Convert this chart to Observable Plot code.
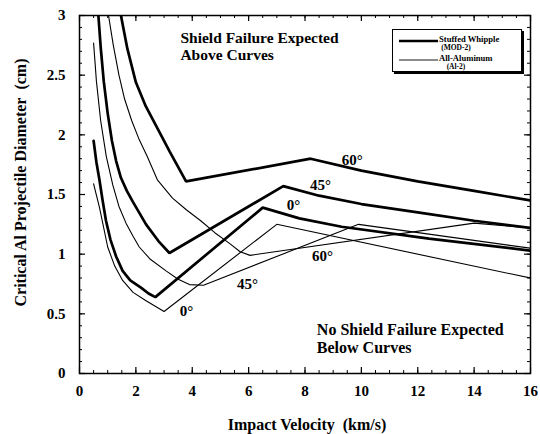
<!DOCTYPE html>
<html><head><meta charset="utf-8">
<script src="https://cdn.jsdelivr.net/npm/d3@7"></script>
<script src="https://cdn.jsdelivr.net/npm/@observablehq/plot@0.6"></script>
<style>
body{margin:0;background:#fff;}
#wrap{position:relative;width:540px;height:434px;font-family:"Liberation Serif","Times New Roman",serif;font-weight:bold;}
#legend{position:absolute;left:392px;top:29px;width:128px;height:41px;border:1.3px solid #000;box-shadow:2px 2px 0 #000;background:#fff;}
</style></head><body><div id="wrap"></div>
<script>
// Stuffed Whipple (MOD-2) — thick curves, [velocity km/s, diameter cm]
const mod2_0deg = [[0.5,1.95],[0.6,1.77],[0.71,1.62],[0.82,1.45],[0.94,1.28],[1.1,1.12],[1.3,0.98],[1.53,0.86],[1.8,0.78],[2.18,0.72],[2.45,0.67],[2.69,0.64],[6.5,1.39],[7.8,1.30],[9.3,1.23],[12.4,1.13],[16,1.03]];
const mod2_45deg = [[0.67,3.0],[0.75,2.74],[0.86,2.45],[1.0,2.18],[1.15,1.95],[1.3,1.78],[1.47,1.64],[1.68,1.53],[1.89,1.44],[2.36,1.25],[2.8,1.11],[3.19,1.01],[7.23,1.57],[8.5,1.49],[10,1.42],[12,1.35],[14,1.28],[16,1.22]];
const mod2_60deg = [[1.47,3.0],[1.7,2.72],[2.0,2.44],[2.35,2.24],[2.71,2.08],[3.2,1.86],[3.78,1.61],[8.2,1.80],[10,1.70],[12,1.61],[14,1.53],[16,1.45]];
// All-Aluminum (Al-2) — thin curves
const al2_0deg = [[0.5,1.59],[0.71,1.39],[1.0,1.06],[1.25,0.90],[1.53,0.78],[1.9,0.68],[2.36,0.61],[3.0,0.52],[7.0,1.25],[16,0.80]];
const al2_45deg = [[0.5,2.77],[0.6,2.45],[0.75,2.12],[0.95,1.82],[1.18,1.58],[1.4,1.40],[1.65,1.26],[1.9,1.15],[2.12,1.06],[2.5,0.96],[3.07,0.86],[3.5,0.79],[3.9,0.745],[4.4,0.74],[9.9,1.25],[16,1.05]];
const al2_60deg = [[1.03,3.0],[1.2,2.75],[1.4,2.5],[1.6,2.3],[1.85,2.12],[2.1,1.97],[2.4,1.82],[2.77,1.62],[3.3,1.47],[3.8,1.37],[4.3,1.28],[4.8,1.18],[5.32,1.09],[5.7,1.02],[6.05,0.99],[14.0,1.26],[16,1.22]];

const xTicks = [0,2,4,6,8,10,12,14,16];
const yTicks = [0,0.5,1,1.5,2,2.5,3];
const xMinor = [0,0.5,1,1.5,2,2.5,3,3.5,4,4.5,5,5.5,6,6.5,7,7.5,8,8.5,9,9.5,10,10.5,11,11.5,12,12.5,13,13.5,14,14.5,15,15.5,16];
const yMinor = [0,0.1,0.2,0.3,0.4,0.5,0.6,0.7,0.8,0.9,1,1.1,1.2,1.3,1.4,1.5,1.6,1.7,1.8,1.9,2,2.1,2.2,2.3,2.4,2.5,2.6,2.7,2.8,2.9,3];

const angleText = ["60°","45°","0°","60°","45°","0°"];
const angleAt = [[9.68,1.79],[8.55,1.58],[7.59,1.41],[8.62,0.98],[5.96,0.75],[3.80,0.52]];
const noteText = ["Shield Failure Expected\nAbove Curves","No Shield Failure Expected\nBelow Curves"];
const noteAt = [[3.58,2.875],[8.42,0.43]];
const noteLead = [1.12,1.14];
const xTitle = "Impact Velocity\u00a0\u00a0(km/s)";
const yTitle = "Critical Al Projectile Diameter\u00a0\u00a0(cm)";

const seriesList = [
  {key:"mod2-0", thick:true, pts:mod2_0deg},
  {key:"mod2-45", thick:true, pts:mod2_45deg},
  {key:"mod2-60", thick:true, pts:mod2_60deg},
  {key:"al2-0", thick:false, pts:al2_0deg},
  {key:"al2-45", thick:false, pts:al2_45deg},
  {key:"al2-60", thick:false, pts:al2_60deg}
];
const rows = seriesList.flatMap(s => s.pts.map(([v,d]) => ({key:s.key, thick:s.thick, v, d})));

const W = 540, H = 434, ML = 79, MR = 10, MT = 15, MB = 61;
const FW = W - ML - MR, FH = H - MT - MB;
const font = '"Liberation Serif","Times New Roman",serif';

const chart = Plot.plot({
  width: W, height: H,
  marginLeft: ML, marginRight: MR, marginTop: MT, marginBottom: MB,
  style: {fontFamily: font, fontWeight: "bold", fontSize: "15px", background: "#fff", color: "#000"},
  x: {domain: [0,16]},
  y: {domain: [0,3]},
  marks: [
    // ticks inside the frame
    Plot.tickY(yMinor, {y: d=>d, insetRight: FW-3, stroke:"#000", strokeWidth:1}),
    Plot.tickY(yMinor, {y: d=>d, insetLeft: FW-3, stroke:"#000", strokeWidth:1}),
    Plot.tickY(yTicks, {y: d=>d, insetRight: FW-6, stroke:"#000", strokeWidth:1.2}),
    Plot.tickY(yTicks, {y: d=>d, insetLeft: FW-6, stroke:"#000", strokeWidth:1.2}),
    Plot.tickX(xMinor, {x: d=>d, insetTop: FH-3, stroke:"#000", strokeWidth:1}),
    Plot.tickX(xMinor, {x: d=>d, insetBottom: FH-3, stroke:"#000", strokeWidth:1}),
    Plot.tickX(xTicks, {x: d=>d, insetTop: FH-6, stroke:"#000", strokeWidth:1.2}),
    Plot.tickX(xTicks, {x: d=>d, insetBottom: FH-6, stroke:"#000", strokeWidth:1.2}),
    Plot.axisY({ticks: yTicks, tickSize: 0, tickPadding: 14, tickFormat: d=>String(d), label: null, fontSize: 15, fontWeight:"bold"}),
    Plot.axisX({ticks: xTicks, tickSize: 0, tickPadding: 12, tickFormat: d=>String(d), label: null, fontSize: 15, fontWeight:"bold"}),
    Plot.line(rows.filter(r=>!r.thick), {x:"v", y:"d", z:"key", stroke:"#000", strokeWidth:1.1, clip:true}),
    Plot.line(rows.filter(r=>r.thick), {x:"v", y:"d", z:"key", stroke:"#000", strokeWidth:2.7, clip:true, strokeLinejoin:"miter"}),
    Plot.text(angleText, {x: (d,i)=>angleAt[i][0], y: (d,i)=>angleAt[i][1], text: d=>d, fontSize: 15, fontWeight:"bold", fill:"#000"}),
    Plot.text([noteText[0]], {x: noteAt[0][0], y: noteAt[0][1], text: d=>d, textAnchor:"start", lineAnchor:"top", lineHeight: noteLead[0], fontSize: 15.5, fontWeight:"bold", fill:"#000"}),
    Plot.text([noteText[1]], {x: noteAt[1][0], y: noteAt[1][1], text: d=>d, textAnchor:"start", lineAnchor:"top", lineHeight: noteLead[1], fontSize: 16, fontWeight:"bold", fill:"#000"}),
    Plot.text([yTitle], {frameAnchor:"left", textAnchor:"middle", lineAnchor:"middle", dx:-59, dy:-12, rotate:-90, text:d=>d, fontSize:16, fontWeight:"bold", fill:"#000"}),
    Plot.text([xTitle], {frameAnchor:"bottom", textAnchor:"middle", lineAnchor:"middle", dx:2, dy:51, text:d=>d, fontSize:16, fontWeight:"bold", fill:"#000"}),
    Plot.frame({stroke:"#000", strokeWidth:1.5})
  ]
});
const wrap = document.getElementById("wrap");
wrap.appendChild(chart);

// legend box (Stuffed Whipple / All-Aluminum)
const legendItems = [
  {label:"Stuffed Whipple", sub:"(MOD-2)", w:2.4},
  {label:"All-Aluminum", sub:"(Al-2)", w:0.9}
];
const lg = document.createElement("div");
lg.id = "legend";
wrap.appendChild(lg);
const ls = d3.select(lg).append("svg").attr("width",128).attr("height",41).style("position","absolute").style("left","0").style("top","0");
legendItems.forEach((it,i)=>{
  const y0 = 11 + i*19;
  ls.append("line").attr("x1",6).attr("x2",45).attr("y1",y0).attr("y2",y0).attr("stroke","#000").attr("stroke-width",it.w);
  ls.append("text").attr("x",46).attr("y",y0+1).attr("font-family",font).attr("font-weight","bold").attr("font-size",8.6).text(it.label);
  ls.append("text").attr("x",63).attr("y",y0+9).attr("font-family",font).attr("font-weight","bold").attr("font-size",7.5).attr("text-anchor","middle").text(it.sub);
});
</script>
</body></html>
